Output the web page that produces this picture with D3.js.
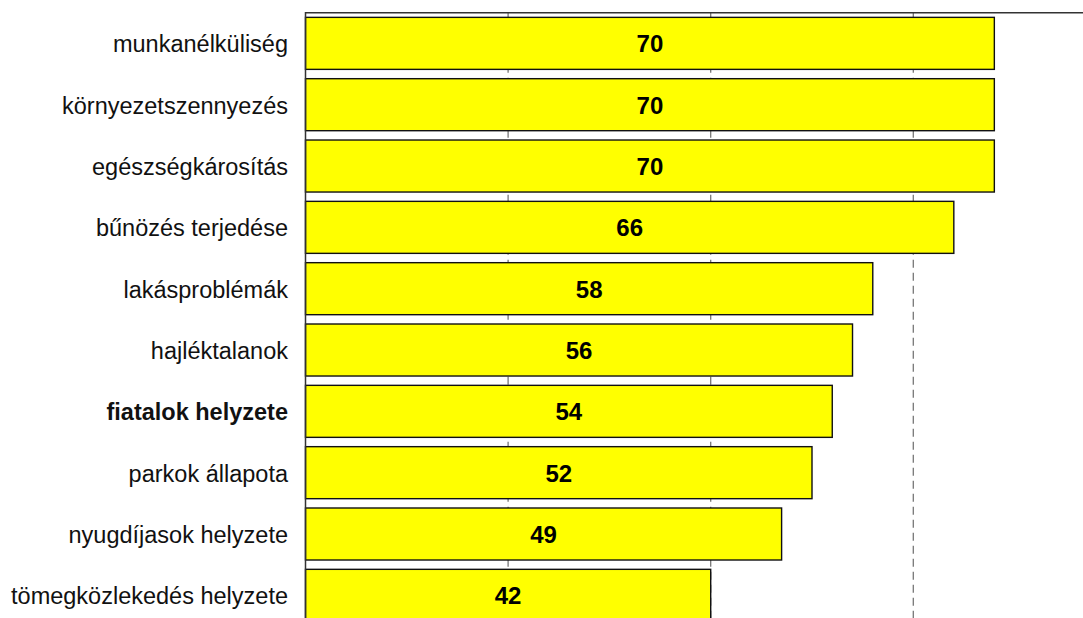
<!DOCTYPE html>
<html>
<head>
<meta charset="utf-8">
<script src="https://cdn.jsdelivr.net/npm/d3@7"></script>
<style>
  html, body { margin: 0; padding: 0; background: #fff; }
  svg { display: block; }
</style>
</head>
<body>
<svg id="chart" width="1083" height="618"></svg>
<script>
const categories = [
  "munkanélküliség",
  "környezetszennyezés",
  "egészségkárosítás",
  "bűnözés terjedése",
  "lakásproblémák",
  "hajléktalanok",
  "fiatalok helyzete",
  "parkok állapota",
  "nyugdíjasok helyzete",
  "tömegközlekedés helyzete"
];
const values = [70, 70, 70, 66, 58, 56, 54, 52, 49, 42];
const boldCategories = ["fiatalok helyzete"];
const axisMin = 2, axisMax = 82;
const gridValues = [22, 42, 62];

const W = 1083, H = 618;
const svg = d3.select("#chart");

const x = d3.scaleLinear().domain([axisMin, axisMax]).range([305.5, 305.5 + 80 * 10.13]);
const y = d3.scaleBand().domain(categories).range([12.7, 626]).paddingInner(0.152).paddingOuter(0.076);

// dashed gridlines
svg.append("g").selectAll("line").data(gridValues).join("line")
  .attr("x1", d => x(d)).attr("x2", d => x(d))
  .attr("y1", 12.7).attr("y2", H)
  .attr("stroke", "#777").attr("stroke-width", 1.3)
  .attr("stroke-dasharray", "8,5");

// bars
svg.append("g").selectAll("rect").data(categories).join("rect")
  .attr("x", x(axisMin))
  .attr("y", d => y(d))
  .attr("width", (d, i) => x(values[i]) - x(axisMin))
  .attr("height", y.bandwidth())
  .attr("fill", "#FFFF00")
  .attr("stroke", "#111")
  .attr("stroke-width", 1.4);

// value labels
svg.append("g").selectAll("text").data(categories).join("text")
  .attr("x", (d, i) => (x(axisMin) + x(values[i])) / 2)
  .attr("y", d => y(d) + y.bandwidth() / 2)
  .attr("dy", "0.37em")
  .attr("text-anchor", "middle")
  .attr("font-family", "Liberation Sans, Arial, sans-serif")
  .attr("font-weight", "bold")
  .attr("font-size", 24)
  .attr("fill", "#000")
  .text((d, i) => values[i]);

// category labels
svg.append("g").selectAll("text").data(categories).join("text")
  .attr("x", 288)
  .attr("y", d => y(d) + y.bandwidth() / 2)
  .attr("dy", "0.38em")
  .attr("text-anchor", "end")
  .attr("font-family", "Liberation Sans, Arial, sans-serif")
  .attr("font-weight", d => boldCategories.includes(d) ? "bold" : "normal")
  .attr("font-size", 23.5)
  .attr("fill", "#111")
  .text(d => d);

// frame: top border and left axis line
svg.append("line")
  .attr("x1", x(axisMin)).attr("x2", W)
  .attr("y1", 12.7).attr("y2", 12.7)
  .attr("stroke", "#333").attr("stroke-width", 1.5);
svg.append("line")
  .attr("x1", x(axisMin)).attr("x2", x(axisMin))
  .attr("y1", 12).attr("y2", H)
  .attr("stroke", "#333").attr("stroke-width", 1.5);
</script>
</body>
</html>
